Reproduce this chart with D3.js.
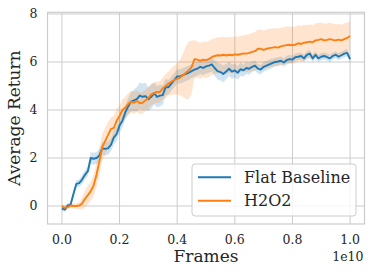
<!DOCTYPE html>
<html>
<head>
<meta charset="utf-8">
<script src="https://cdn.jsdelivr.net/npm/d3@7"></script>
<style>
html,body{margin:0;padding:0;background:#fff;}
svg{display:block;}
text{font-family:"DejaVu Serif",serif;fill:#262626;}
</style>
</head>
<body>
<div id="chart"></div>
<script>
// ---- data (x in units of 1e10 frames) ----
const frames = d3.range(0, 101).map(i => i / 100);

const flatBaseline = [
 -0.10,-0.15,0.02,0.05,0.50,0.92,0.95,1.10,1.30,1.45,
  2.00,1.97,2.00,2.10,2.40,2.38,2.40,2.55,2.85,3.00,
  3.35,3.55,3.90,4.15,4.35,4.40,4.45,4.60,4.55,4.58,
  4.45,4.55,4.70,4.55,4.60,4.62,4.95,4.95,5.10,5.25,
  5.40,5.40,5.45,5.50,5.55,5.62,5.68,5.72,5.80,5.75,
  5.82,5.85,5.90,5.75,5.62,5.58,5.50,5.60,5.72,5.60,
  5.65,5.55,5.70,5.65,5.75,5.72,5.80,5.85,5.72,5.68,
  5.80,5.85,5.90,5.95,6.00,6.02,6.05,5.98,6.08,6.12,
  6.10,6.20,6.22,6.25,6.15,6.30,6.35,6.15,6.30,6.15,
  6.22,6.25,6.20,6.15,6.25,6.30,6.22,6.28,6.35,6.38,
  6.12
];
const flatBand = [
  0.10,0.10,0.10,0.10,0.15,0.15,0.15,0.18,0.20,0.20,
  0.25,0.25,0.25,0.28,0.28,0.28,0.28,0.28,0.30,0.30,
  0.30,0.30,0.30,0.35,0.40,0.45,0.50,0.55,0.55,0.55,
  0.50,0.50,0.45,0.45,0.45,0.40,0.35,0.30,0.30,0.30,
  0.30,0.30,0.30,0.30,0.30,0.30,0.30,0.30,0.30,0.30,
  0.30,0.30,0.30,0.32,0.35,0.35,0.35,0.32,0.30,0.30,
  0.30,0.28,0.28,0.25,0.25,0.25,0.22,0.22,0.20,0.20,
  0.20,0.20,0.20,0.20,0.18,0.18,0.18,0.18,0.18,0.18,
  0.15,0.15,0.15,0.15,0.15,0.15,0.15,0.15,0.15,0.15,
  0.15,0.15,0.15,0.15,0.15,0.15,0.15,0.15,0.15,0.15,
  0.15
];
const h2o2 = [
  0.00,-0.08,-0.05,0.02,0.00,0.00,0.02,0.10,0.30,0.45,
  0.62,0.85,1.30,1.85,2.45,2.70,2.95,3.20,3.25,3.55,
  3.75,4.00,4.10,4.25,4.35,4.30,4.38,4.28,4.30,4.40,
  4.50,4.65,4.70,4.75,4.75,4.90,5.00,5.10,5.18,5.25,
  5.30,5.35,5.45,5.55,5.65,5.78,6.12,6.10,6.05,6.10,
  6.08,6.12,6.20,6.25,6.28,6.27,6.30,6.27,6.30,6.28,
  6.32,6.30,6.33,6.36,6.35,6.38,6.42,6.45,6.55,6.55,
  6.50,6.55,6.58,6.60,6.62,6.60,6.65,6.68,6.70,6.72,
  6.70,6.72,6.78,6.75,6.80,6.82,6.85,6.82,6.90,6.92,
  6.95,6.90,6.92,6.95,6.92,6.90,6.93,6.90,6.95,7.00,
  7.08
];
const h2o2Band = [
  0.10,0.10,0.10,0.10,0.10,0.10,0.15,0.25,0.35,0.40,
  0.40,0.45,0.50,0.55,0.55,0.55,0.55,0.50,0.50,0.50,
  0.45,0.45,0.45,0.45,0.45,0.45,0.45,0.45,0.45,0.45,
  0.45,0.45,0.45,0.45,0.45,0.45,0.50,0.50,0.55,0.60,
  0.65,0.75,0.90,1.10,1.20,1.10,0.80,0.75,0.75,0.75,
  0.75,0.75,0.75,0.75,0.75,0.75,0.75,0.75,0.75,0.75,
  0.75,0.75,0.75,0.75,0.78,0.78,0.80,0.80,0.80,0.80,
  0.80,0.80,0.80,0.80,0.80,0.78,0.78,0.78,0.78,0.76,
  0.76,0.76,0.75,0.75,0.75,0.72,0.72,0.70,0.70,0.70,
  0.70,0.70,0.68,0.68,0.68,0.66,0.66,0.65,0.65,0.65,
  0.62
];
const seriesNames = ["Flat Baseline", "H2O2"];
const seriesColors = ["#1f77b4", "#ff7f0e"];
const xTicks = [0.0, 0.2, 0.4, 0.6, 0.8, 1.0];
const yTicks = [0, 2, 4, 6, 8];
const xLabel = "Frames";
const yLabel = "Average Return";
const offsetText = "1e10";

// ---- layout ----
const W = 374, H = 277;
const L = 47.5, R = 364.5, T = 12.3, B = 224;

const svg = d3.select("#chart").append("svg").attr("width", W).attr("height", H);

const x = d3.scaleLinear().domain([-0.05, 1.05]).range([L, R]);
const y = d3.scaleLinear().domain([-0.75, 8.07]).range([B, T]);

// grid
const g = svg.append("g");
g.selectAll(".vg").data(xTicks).join("line")
  .attr("x1", d => x(d)).attr("x2", d => x(d)).attr("y1", T).attr("y2", B)
  .attr("stroke", "#cccccc").attr("stroke-width", 1);
g.selectAll(".hg").data(yTicks).join("line")
  .attr("x1", L).attr("x2", R).attr("y1", d => y(d)).attr("y2", d => y(d))
  .attr("stroke", "#cccccc").attr("stroke-width", 1);

svg.append("clipPath").attr("id", "clip").append("rect")
  .attr("x", L).attr("y", T).attr("width", R - L).attr("height", B - T);

const plot = svg.append("g").attr("clip-path", "url(#clip)");
const series = [
  {name: seriesNames[0], color: seriesColors[0], vals: flatBaseline, band: flatBand},
  {name: seriesNames[1], color: seriesColors[1], vals: h2o2, band: h2o2Band}
];

series.forEach(s => {
  const pts = frames.map((f, i) => ({x: f, y: s.vals[i], h: s.band[i]}));
  plot.append("path").datum(pts)
    .attr("d", d3.area().x(d => x(d.x)).y0(d => y(d.y - d.h)).y1(d => y(d.y + d.h)))
    .attr("fill", s.color).attr("fill-opacity", 0.2).attr("stroke", "none");
});
series.forEach(s => {
  const pts = frames.map((f, i) => ({x: f, y: s.vals[i]}));
  plot.append("path").datum(pts)
    .attr("d", d3.line().x(d => x(d.x)).y(d => y(d.y)))
    .attr("fill", "none").attr("stroke", s.color).attr("stroke-width", 1.9)
    .attr("stroke-linejoin", "round");
});

// frame
svg.append("rect").attr("x", L).attr("y", T).attr("width", R - L).attr("height", B - T)
  .attr("fill", "none").attr("stroke", "#cccccc").attr("stroke-width", 1.2);

// tick labels
svg.selectAll(".xt").data(xTicks).join("text")
  .attr("x", d => x(d)).attr("y", 244).attr("text-anchor", "middle")
  .attr("font-size", 12.5).text(d => d.toFixed(1));
svg.selectAll(".yt").data(yTicks).join("text")
  .attr("x", 37.5).attr("y", d => y(d)).attr("dy", "0.36em").attr("text-anchor", "end")
  .attr("font-size", 12.5).text(d => d);

// axis labels
svg.append("text").attr("x", x(0.5)).attr("y", 261.5).attr("text-anchor", "middle")
  .attr("font-size", 17).text(xLabel);
svg.append("text").attr("transform", `translate(20,${(T + B) / 2}) rotate(-90)`)
  .attr("text-anchor", "middle").attr("font-size", 17).text(yLabel);
svg.append("text").attr("x", 363.5).attr("y", 260.5).attr("text-anchor", "end")
  .attr("font-size", 12.5).text(offsetText);

// legend
const lg = svg.append("g");
lg.append("rect").attr("x", 192).attr("y", 164).attr("width", 164).attr("height", 52)
  .attr("rx", 3).attr("fill", "#ffffff").attr("fill-opacity", 0.8)
  .attr("stroke", "#cccccc").attr("stroke-width", 1);
series.forEach((s, i) => {
  const yy = 177.3 + i * 23.4;
  lg.append("line").attr("x1", 198).attr("x2", 231).attr("y1", yy).attr("y2", yy)
    .attr("stroke", s.color).attr("stroke-width", 1.9);
  lg.append("text").attr("x", 244).attr("y", yy).attr("dy", "0.36em")
    .attr("font-size", 16).text(s.name);
});
</script>
</body>
</html>
